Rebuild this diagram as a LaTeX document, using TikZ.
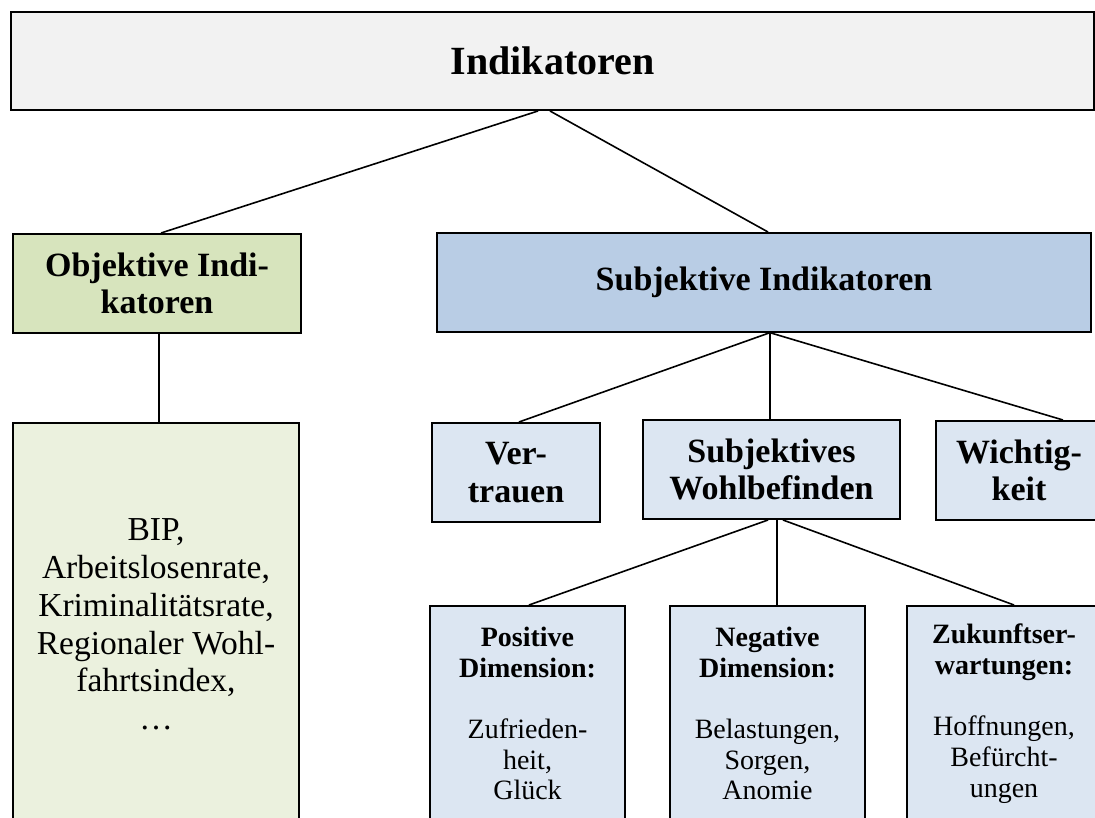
\documentclass[tikz,border=0pt]{standalone}
\usepackage{fontspec}
\setmainfont{Liberation Serif}
\definecolor{topgray}{HTML}{F2F2F2}
\definecolor{objgreen}{HTML}{D7E4BD}
\definecolor{lightgreen}{HTML}{EBF1DE}
\definecolor{subjblue}{HTML}{B9CDE5}
\definecolor{lightblue}{HTML}{DCE6F2}
\begin{document}
\begin{tikzpicture}[x=1pt,y=-1pt,
  box/.style={draw=black, line width=2pt, inner sep=0pt, anchor=north west, align=center},
  midfont/.style={font=\fontsize{34}{37.5}\selectfont\bfseries},
  smallfont/.style={font=\fontsize{28}{30.7}\selectfont},
  conn/.style={line width=1.6pt}]
\useasboundingbox (0,0) rectangle (1095,818);
\node[box, fill=topgray, minimum width=1083pt, minimum height=98pt,
      font=\fontsize{40}{44}\selectfont\bfseries] (top) at (10,11) {Indikatoren};
\node[box, fill=objgreen, minimum width=288pt, minimum height=99pt, midfont] (obj) at (12,233) {Objektive Indi-\\katoren};
\node[box, fill=subjblue, minimum width=654pt, minimum height=99pt, midfont] (subj) at (436,232) {Subjektive Indikatoren};
\node[box, fill=lightgreen, minimum width=286pt, minimum height=403pt,
      font=\fontsize{33.5}{37.7}\selectfont] (green) at (12,422)
  {BIP,\\Arbeitslosenrate,\\Kriminalitätsrate,\\Regionaler Wohl-\\fahrtsindex,\\…};
\node[box, fill=lightblue, minimum width=168pt, minimum height=99pt, midfont] (vert) at (431,422) {Ver-\\trauen};
\node[box, fill=lightblue, minimum width=257pt, minimum height=99pt, midfont] (wohl) at (642,419) {Subjektives\\Wohlbefinden};
\node[box, fill=lightblue, minimum width=166pt, minimum height=99pt, midfont] (wicht) at (935,420) {Wichtig-\\keit};
\node[box, fill=lightblue, minimum width=195pt, minimum height=215pt, smallfont] (pos) at (429,605)
  {\textbf{Positive}\\\textbf{Dimension:}\\[30.7pt]Zufrieden-\\heit,\\Glück};
\node[box, fill=lightblue, minimum width=195pt, minimum height=215pt, smallfont] (neg) at (669,605)
  {\textbf{Negative}\\\textbf{Dimension:}\\[30.7pt]Belastungen,\\Sorgen,\\Anomie};
\node[box, fill=lightblue, minimum width=194pt, minimum height=215pt, smallfont] (zuk) at (906,605)
  {\textbf{Zukunftser-}\\\textbf{wartungen:}\\[30.7pt]Hoffnungen,\\Befürcht-\\ungen};
\draw[conn] ([xshift=-14.5pt]top.south) -- ([xshift=4pt]obj.north);
\draw[conn] ([xshift=-2.5pt]top.south) -- ([xshift=4pt]subj.north);
\draw[conn] ([xshift=2pt]obj.south) -- ([xshift=3pt]green.north);
\draw[conn] ([xshift=5pt]subj.south) -- ([xshift=3pt]vert.north);
\draw[conn] ([xshift=6pt]subj.south) -- ([xshift=-1.5pt]wohl.north);
\draw[conn] ([xshift=7pt]subj.south) -- ([xshift=44pt]wicht.north);
\draw[conn] ([xshift=-3.5pt]wohl.south) -- ([xshift=1.5pt]pos.north);
\draw[conn] ([xshift=5.5pt]wohl.south) -- ([xshift=9.5pt]neg.north);
\draw[conn] ([xshift=11.5pt]wohl.south) -- ([xshift=10pt]zuk.north);
\end{tikzpicture}
\end{document}
